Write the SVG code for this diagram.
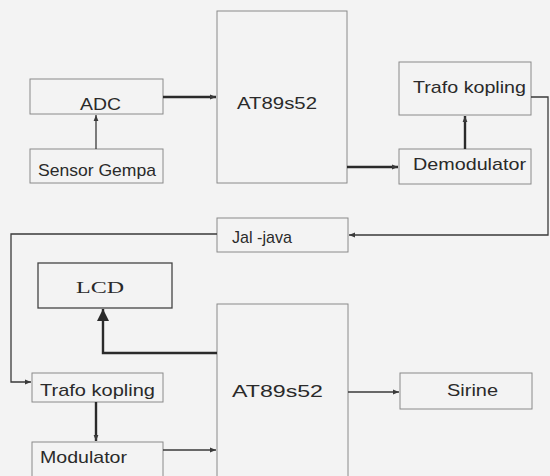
<svg xmlns="http://www.w3.org/2000/svg" width="550" height="476" viewBox="0 0 550 476">
<style>
.box{fill:none;stroke:#8a8a8a;stroke-width:1}
.t{font-family:"Liberation Sans",Arial,sans-serif;fill:#2a2a2a;font-size:17px;text-anchor:start}
.c{fill:none;stroke:#3a3a3a;stroke-width:1.3}
.ct{fill:none;stroke:#2a2a2a;stroke-width:2.4}
</style>
<defs>
<marker id="a" viewBox="0 0 10 10" refX="10" refY="5" markerWidth="7" markerHeight="6" markerUnits="userSpaceOnUse" orient="auto">
<path d="M0,1 L10,5 L0,9 z" fill="#3a3a3a"/>
</marker>
<marker id="ab" viewBox="0 0 10 10" refX="10" refY="5" markerWidth="12" markerHeight="12" markerUnits="userSpaceOnUse" orient="auto">
<path d="M0,0 L10,5 L0,10 z" fill="#2a2a2a"/>
</marker>
</defs>
<rect width="550" height="476" fill="#f3f3f3"/>
<g id="at89-top"><rect class="box" x="217" y="11" width="130" height="172"/><text class="t" x="237" y="109" textLength="80" lengthAdjust="spacingAndGlyphs">AT89s52</text></g>
<g id="adc"><rect class="box" x="30" y="79" width="133" height="35"/><text class="t" x="80" y="110" textLength="41" lengthAdjust="spacingAndGlyphs">ADC</text></g>
<g id="sensor"><rect class="box" x="30" y="149" width="133" height="34"/><text class="t" x="38" y="176" font-size="16" textLength="118" lengthAdjust="spacingAndGlyphs">Sensor Gempa</text></g>
<g id="trafo-top"><rect class="box" x="399" y="62" width="132" height="53"/><text class="t" x="413" y="93" textLength="113" lengthAdjust="spacingAndGlyphs">Trafo kopling</text></g>
<g id="demod"><rect class="box" x="399" y="149" width="132" height="35"/><text class="t" x="413" y="170" textLength="113" lengthAdjust="spacingAndGlyphs">Demodulator</text></g>
<g id="jaljava"><rect class="box" x="217" y="218" width="131" height="34"/><text class="t" x="232" y="243" font-size="11" textLength="60" lengthAdjust="spacingAndGlyphs">Jal -java</text></g>
<g id="lcd"><rect x="38" y="263" width="134" height="45" fill="none" stroke="#444" stroke-width="1.3"/><text x="76" y="293" font-family="'Liberation Serif','Times New Roman',serif" font-size="17" fill="#2a2a2a" textLength="48" lengthAdjust="spacingAndGlyphs">LCD</text></g>
<g id="at89-bot"><rect class="box" x="217" y="304" width="131" height="180"/><text class="t" x="232" y="397" textLength="91" lengthAdjust="spacingAndGlyphs">AT89s52</text></g>
<g id="trafo-bot"><rect class="box" x="32" y="373" width="131" height="29"/><text class="t" x="40" y="396" textLength="115" lengthAdjust="spacingAndGlyphs">Trafo kopling</text></g>
<g id="modulator"><rect class="box" x="32" y="442" width="131" height="40"/><text class="t" x="40" y="463" textLength="87" lengthAdjust="spacingAndGlyphs">Modulator</text></g>
<g id="sirine"><rect class="box" x="400" y="373" width="132" height="36"/><text class="t" x="447" y="396" textLength="51" lengthAdjust="spacingAndGlyphs">Sirine</text></g>
<g id="connectors">
<path class="ct" d="M163,97 H216" marker-end="url(#a)"/>
<path class="c" d="M96,149 V115" marker-end="url(#a)"/>
<path class="ct" d="M347,167 H398" marker-end="url(#a)"/>
<path class="ct" d="M465,149 V116" marker-end="url(#a)"/>
<path class="c" d="M531,97 H548 V235 H349" marker-end="url(#a)"/>
<path class="c" d="M217,234 H11 V382 H31" marker-end="url(#a)"/>
<path class="ct" d="M217,353 H103 V309" marker-end="url(#ab)"/>
<path class="ct" d="M96,402 V441" marker-end="url(#a)"/>
<path class="c" d="M163,450 H216" marker-end="url(#a)"/>
<path class="c" d="M348,392 H399" marker-end="url(#a)"/>
</g>
</svg>
